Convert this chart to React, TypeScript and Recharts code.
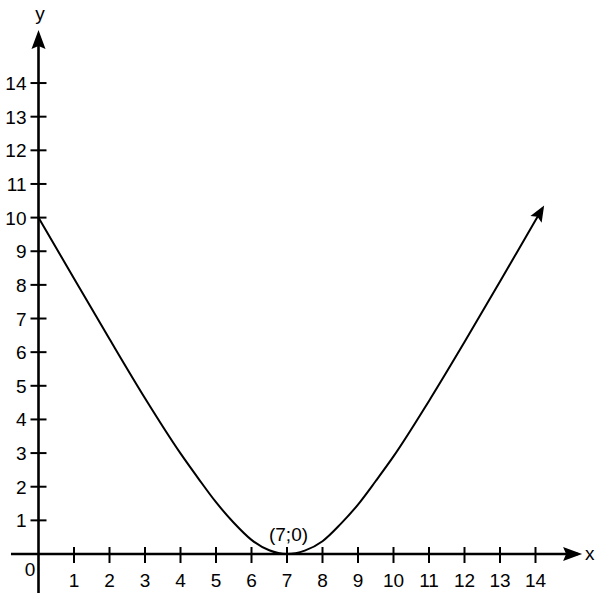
import React from 'react';
import { LineChart, Line, XAxis, YAxis, ReferenceLine, ReferenceDot } from 'recharts';

const xValues = [0, 1, 2, 3, 4, 4.5, 5, 5.5, 6, 6.5, 7, 7.5, 8, 8.5, 9, 9.5, 10, 11, 12, 13, 14, 14.2];
const yValues = [10, 8.19, 6.39, 4.63, 2.99, 2.25, 1.54, 0.93, 0.42, 0.11, 0, 0.1, 0.38, 0.88, 1.47, 2.17, 2.9, 4.55, 6.3, 8.1, 9.92, 10.28];
const xTicks = [1, 2, 3, 4, 5, 6, 7, 8, 9, 10, 11, 12, 13, 14];
const yTicks = [1, 2, 3, 4, 5, 6, 7, 8, 9, 10, 11, 12, 13, 14];
const vertexX = 7;
const vertexY = 0;
const vertexLabel = '(7;0)';
const xAxisName = 'x';
const yAxisName = 'y';
const originLabel = '0';

const data = xValues.map((x, i) => ({ x, y: yValues[i] }));

const FONT = '"Liberation Sans", Arial, Helvetica, sans-serif';
const FS = 19;

const XTick = (props: any) => {
  const { x, y, payload } = props;
  return (
    <g>
      <line x1={x} x2={x} y1={y - 7} y2={y + 9} stroke="#000" strokeWidth={2} />
      <text x={x} y={y + 33} textAnchor="middle" fontSize={FS} fontFamily={FONT} fill="#000">
        {payload.value}
      </text>
    </g>
  );
};

const YTick = (props: any) => {
  const { x, y, payload } = props;
  return (
    <g>
      <line x1={x - 8} x2={x + 8} y1={y} y2={y} stroke="#000" strokeWidth={2} />
      <text x={x - 12} y={y + 7} textAnchor="end" fontSize={FS} fontFamily={FONT} fill="#000">
        {payload.value}
      </text>
    </g>
  );
};

const XAxisLine = (p: any) => (
  <g>
    <line x1={p.x1} y1={p.y1} x2={p.x2} y2={p.y2} stroke="#000" strokeWidth={2.6} markerEnd="url(#axisArrow)" />
    <text x={p.x2 + 7} y={p.y2 + 6} fontSize={FS} fontFamily={FONT} fill="#000">
      {xAxisName}
    </text>
  </g>
);

const YAxisLine = (p: any) => (
  <g>
    <line x1={p.x1} y1={p.y1} x2={p.x2} y2={p.y2} stroke="#000" strokeWidth={2.6} markerEnd="url(#axisArrow)" />
    <text x={p.x2 + 1.5} y={p.y2 - 14} textAnchor="middle" fontSize={FS} fontFamily={FONT} fill="#000">
      {yAxisName}
    </text>
  </g>
);

const OriginShape = (p: any) => (
  <text x={p.cx - 8.5} y={p.cy + 22} textAnchor="middle" fontSize={FS} fontFamily={FONT} fill="#000">
    {originLabel}
  </text>
);

const VertexShape = (p: any) => (
  <text x={p.cx + 1.5} y={p.cy - 13} textAnchor="middle" fontSize={FS} fontFamily={FONT} fill="#000">
    {vertexLabel}
  </text>
);

export default function App() {
  return (
    <div style={{ position: 'absolute', left: 0, top: 0, width: 603, height: 603 }}>
      <svg width={0} height={0} style={{ position: 'absolute' }}>
        <defs>
          <marker id="axisArrow" viewBox="-21 -8 23 16" markerWidth={23} markerHeight={16} refX={-4} refY={0} markerUnits="userSpaceOnUse" orient="auto">
            <path d="M0,0 L-19,-7 L-16,0 L-19,7 Z" fill="#000" />
          </marker>
          <marker id="curveArrow" viewBox="-18 -8 20 16" markerWidth={20} markerHeight={16} refX={-3} refY={0} markerUnits="userSpaceOnUse" orient="auto">
            <path d="M0,0 L-16,-6.5 L-13,0 L-16,6.5 Z" fill="#000" />
          </marker>
        </defs>
      </svg>
      <LineChart width={603} height={603} data={data} margin={{ top: 49.4, right: 32, bottom: 0, left: 0 }}>
        <XAxis
          type="number"
          dataKey="x"
          domain={[0, 15]}
          ticks={xTicks}
          interval={0}
          axisLine={false}
          tickLine={false}
          tickSize={0}
          tickMargin={0}
          height={49}
          tick={<XTick />}
        />
        <YAxis
          type="number"
          domain={[0, 15]}
          ticks={yTicks}
          interval={0}
          axisLine={false}
          tickLine={false}
          tickSize={0}
          tickMargin={0}
          width={38.5}
          tick={<YTick />}
        />
        <ReferenceLine
          segment={[{ x: -0.775, y: 0 }, { x: 15.2, y: 0 }]}
          ifOverflow="visible"
          shape={XAxisLine}
        />
        <ReferenceLine
          segment={[{ x: 0, y: -1.16 }, { x: 0, y: 15.46 }]}
          ifOverflow="visible"
          shape={YAxisLine}
        />
        <ReferenceDot x={0} y={0} r={0} ifOverflow="visible" shape={OriginShape} />
        <ReferenceDot x={vertexX} y={vertexY} r={0} ifOverflow="visible" shape={VertexShape} />
        <Line
          type="monotone"
          dataKey="y"
          stroke="#000"
          strokeWidth={2}
          dot={false}
          activeDot={false}
          isAnimationActive={false}
          markerEnd="url(#curveArrow)"
        />
      </LineChart>
    </div>
  );
}
